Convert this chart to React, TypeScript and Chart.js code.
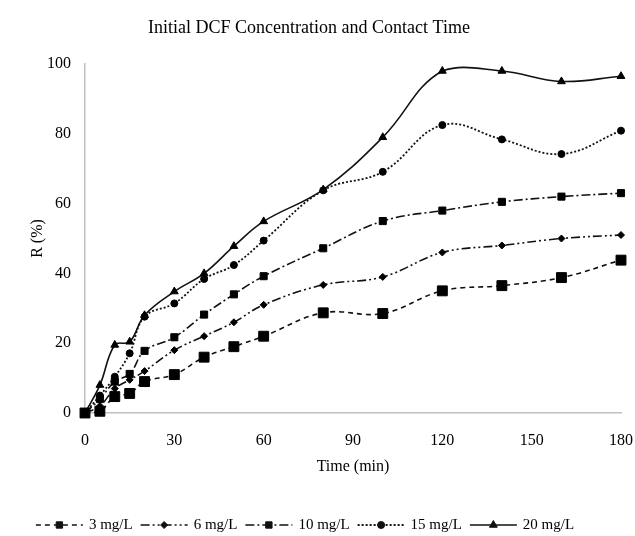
import React, { useEffect, useRef } from "react";
import { Chart, registerables } from "chart.js";

Chart.register(...registerables);

const titleText = "Initial DCF Concentration and Contact Time";
const xTitle = "Time (min)";
const yTitle = "R (%)";

const times = [0, 5, 10, 15, 20, 30, 40, 50, 60, 80, 100, 120, 140, 160, 180];
const seriesNames = ["3 mg/L", "6 mg/L", "10 mg/L", "15 mg/L", "20 mg/L"];
const s3 = [0, 0.5, 4.7, 5.6, 9, 11, 16, 19, 22, 28.7, 28.5, 35, 36.5, 38.8, 43.8];
const s6 = [0, 2, 7, 9.5, 12, 18, 22, 26, 31, 36.7, 39, 46, 48, 50, 51];
const s10 = [0, 4, 9, 11.2, 17.8, 21.7, 28.2, 34, 39.2, 47.2, 55, 58, 60.5, 62, 63];
const s15 = [0, 5, 10.4, 17.1, 27.6, 31.4, 38.4, 42.4, 49.4, 63.8, 69.1, 82.5, 78.4, 74.2, 80.9];
const s20 = [0, 8, 19.5, 20.4, 28, 34.8, 40, 47.8, 54.9, 64, 79, 98, 98, 95, 96.5];

const xTicks = [0, 30, 60, 90, 120, 150, 180];
const yTicks = [0, 20, 40, 60, 80, 100];

const FONT = "'Liberation Serif', 'Times New Roman', serif";

const styles = [
  { dash: [5, 4], point: "rect", radius: 7, width: 1.6 },
  { dash: [9, 3, 2, 3, 2, 3], point: "rectRot", radius: 3.5, width: 1.6 },
  { dash: [9, 3, 2, 3], point: "rect", radius: 5, width: 1.6 },
  { dash: [2, 2], point: "circle", radius: 3.5, width: 1.8 },
  { dash: [], point: "triangle", radius: 4.5, width: 1.6 },
];

const allSeries = [s3, s6, s10, s15, s20];

function drawMarker(ctx: CanvasRenderingContext2D, style: string, r: number, x: number, y: number) {
  ctx.beginPath();
  if (style === "circle") {
    ctx.arc(x, y, r, 0, Math.PI * 2);
  } else if (style === "rect") {
    const s = r * Math.SQRT1_2;
    ctx.rect(x - s, y - s, 2 * s, 2 * s);
  } else if (style === "rectRot") {
    ctx.moveTo(x, y - r);
    ctx.lineTo(x + r, y);
    ctx.lineTo(x, y + r);
    ctx.lineTo(x - r, y);
    ctx.closePath();
  } else if (style === "triangle") {
    ctx.moveTo(x, y - r);
    ctx.lineTo(x + r * 0.87, y + r * 0.5);
    ctx.lineTo(x - r * 0.87, y + r * 0.5);
    ctx.closePath();
  }
  ctx.fill();
  ctx.stroke();
}

const decorPlugin = {
  id: "decor",
  afterDraw(chart: any) {
    const ctx = chart.ctx;
    ctx.save();
    // title
    ctx.fillStyle = "#000";
    ctx.font = `18px ${FONT}`;
    ctx.textAlign = "center";
    ctx.textBaseline = "middle";
    ctx.fillText(titleText, 309, 28);

    // legend
    ctx.font = `15px ${FONT}`;
    const lineLen = 47;
    const gapLT = 6;
    const gapItem = 8;
    const widths = seriesNames.map((n) => ctx.measureText(n).width);
    let total = 0;
    widths.forEach((w, i) => {
      total += lineLen + gapLT + w + (i < widths.length - 1 ? gapItem : 0);
    });
    let x = 305 - total / 2;
    const y = 525;
    seriesNames.forEach((name, i) => {
      const st = styles[i];
      ctx.strokeStyle = "#111";
      ctx.lineWidth = st.width;
      ctx.setLineDash(st.dash);
      ctx.beginPath();
      ctx.moveTo(x, y);
      ctx.lineTo(x + lineLen, y);
      ctx.stroke();
      ctx.setLineDash([]);
      const mx = x + lineLen / 2;
      ctx.fillStyle = "#111";
      ctx.strokeStyle = "#111";
      ctx.lineWidth = 1;
      drawMarker(ctx, st.point, Math.min(st.radius, 4.5), mx, y);
      ctx.fillStyle = "#000";
      ctx.textAlign = "left";
      ctx.textBaseline = "middle";
      ctx.fillText(name, x + lineLen + gapLT, y);
      x += lineLen + gapLT + widths[i] + gapItem;
    });
    ctx.restore();
  },
};

export default function App() {
  const ref = useRef<HTMLCanvasElement | null>(null);

  useEffect(() => {
    if (!ref.current) return;
    const datasets = allSeries.map((vals, i) => ({
      label: seriesNames[i],
      data: times.map((t, j) => ({ x: t, y: vals[j] })),
      borderColor: "#111",
      backgroundColor: "#111",
      borderWidth: styles[i].width,
      borderDash: styles[i].dash,
      pointStyle: styles[i].point as any,
      pointRadius: styles[i].radius,
      pointBorderWidth: 1,
      pointBackgroundColor: "#000",
      pointBorderColor: "#000",
      tension: 0.4,
      fill: false,
      clip: false as any,
    }));

    const chart = new Chart(ref.current, {
      type: "line",
      data: { datasets },
      plugins: [decorPlugin],
      options: {
        responsive: false,
        animation: false,
        layout: { padding: { top: 64, right: 0, bottom: 40, left: 0 } },
        plugins: {
          legend: { display: false },
          title: { display: false },
          tooltip: { enabled: false },
        },
        scales: {
          x: {
            type: "linear",
            min: 0,
            max: 180,
            afterBuildTicks: (scale: any) => {
              scale.ticks = xTicks.map((v) => ({ value: v }));
            },
            afterFit: (scale: any) => {
              scale.height = 83;
              scale.paddingRight = 14;
            },
            grid: { display: false, drawTicks: false },
            border: { display: true, color: "#c0c0c0", width: 1.5 },
            ticks: {
              color: "#000",
              font: { family: FONT, size: 16 },
              padding: 18,
              maxRotation: 0,
            },
            title: {
              display: true,
              text: xTitle,
              color: "#000",
              font: { family: FONT, size: 16 },
              padding: { top: 0, bottom: 20 },
            },
          },
          y: {
            type: "linear",
            min: 0,
            max: 100,
            afterBuildTicks: (scale: any) => {
              scale.ticks = yTicks.map((v) => ({ value: v }));
            },
            afterFit: (scale: any) => {
              scale.width = 85;
            },
            grid: { display: false, drawTicks: false },
            border: { display: true, color: "#c0c0c0", width: 1.5 },
            ticks: {
              color: "#000",
              font: { family: FONT, size: 16 },
              padding: 14,
            },
            title: {
              display: true,
              text: yTitle,
              color: "#000",
              font: { family: FONT, size: 16 },
              padding: { top: 28, bottom: 0 },
            },
          },
        },
      },
    });
    return () => chart.destroy();
  }, []);

  return (
    <div style={{ position: "absolute", left: 0, top: 0, width: 635, height: 536, background: "#fff" }}>
      <canvas ref={ref} width={635} height={536} style={{ display: "block" }} />
    </div>
  );
}
